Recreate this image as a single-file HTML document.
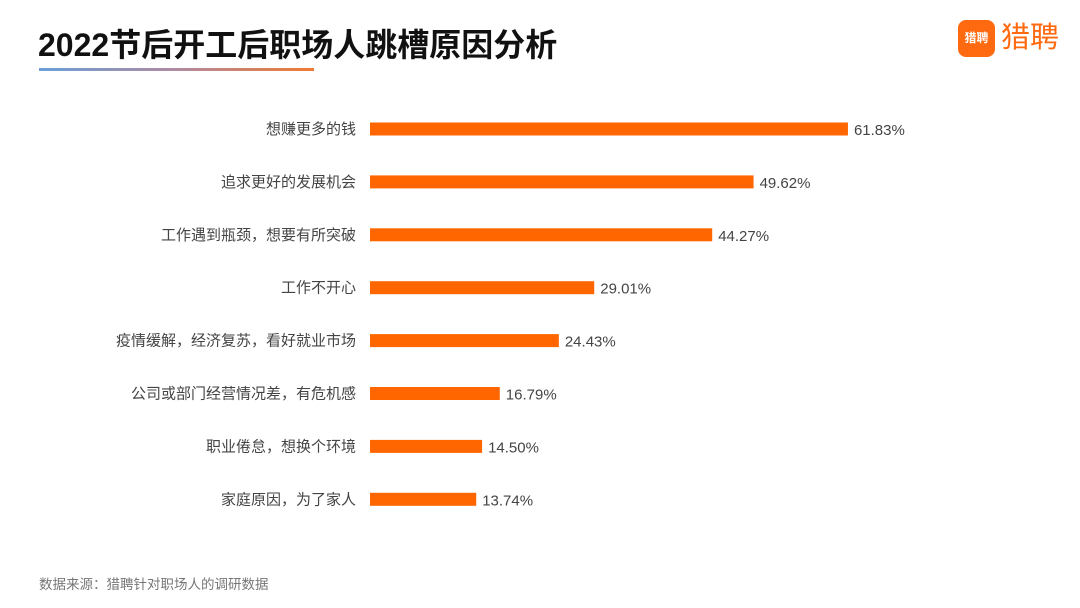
<!DOCTYPE html>
<html><head><meta charset="utf-8"><style>
body{margin:0;background:#fff;font-family:"Liberation Sans","Noto Sans CJK SC",sans-serif;}
#c{position:relative;width:1080px;height:608px;overflow:hidden;background:#fff}
</style></head><body>
<div id="c">
<div style="position:absolute;left:38px;top:20px;font-size:32px;font-weight:bold;color:#111;letter-spacing:0px">2022节后开工后职场人跳槽原因分析</div>
<div style="position:absolute;left:39px;top:68px;width:275px;height:3px;background:linear-gradient(90deg,#6a9fd8,#b08aa0,#f07a30)"></div>
<div style="position:absolute;left:958px;top:20px;">
<div style="position:absolute;left:0;top:0;width:37px;height:37px;border-radius:8px;background:#ff6a10;color:#fff;font-size:12px;font-weight:bold;line-height:37px;text-align:center">猎聘</div>
<div style="position:absolute;left:43px;top:0;font-size:29px;color:#ff6a10;line-height:37px;white-space:nowrap">猎聘</div>
</div>
<svg id="s" width="1080" height="608" style="position:absolute;left:0;top:0"></svg>
<div style="position:absolute;left:39px;top:573px;font-size:13.5px;color:#777">数据来源：猎聘针对职场人的调研数据</div>
</div>
<script>
const categories=["想赚更多的钱","追求更好的发展机会","工作遇到瓶颈，想要有所突破","工作不开心","疫情缓解，经济复苏，看好就业市场","公司或部门经营情况差，有危机感","职业倦怠，想换个环境","家庭原因，为了家人"];
const values=[61.83,49.62,44.27,29.01,24.43,16.79,14.50,13.74];
const labels=["61.83%","49.62%","44.27%","29.01%","24.43%","16.79%","14.50%","13.74%"];
const s=document.getElementById('s');const NS="http://www.w3.org/2000/svg";
const x=v=>v*7.73;const y=i=>129+i*52.9;
categories.forEach((c,i)=>{
 const r=document.createElementNS(NS,'rect');
 
 
 r.setAttribute('x',370);r.setAttribute('y',y(i)-6.5);r.setAttribute('width',x(values[i]));r.setAttribute('height',13);r.setAttribute('fill','#ff6600');s.appendChild(r);
 const t=document.createElementNS(NS,'text');
 
 
 t.setAttribute('x',356);t.setAttribute('y',y(i)+5);t.setAttribute('text-anchor','end');t.setAttribute('font-size','15');t.setAttribute('fill','#444');t.textContent=c;s.appendChild(t);
 const v=document.createElementNS(NS,'text');
 
 
 v.setAttribute('x',370+x(values[i])+6);v.setAttribute('y',y(i)+6);v.setAttribute('font-size','15');v.setAttribute('fill','#444');v.textContent=labels[i];s.appendChild(v);
});
</script>
</body></html>
